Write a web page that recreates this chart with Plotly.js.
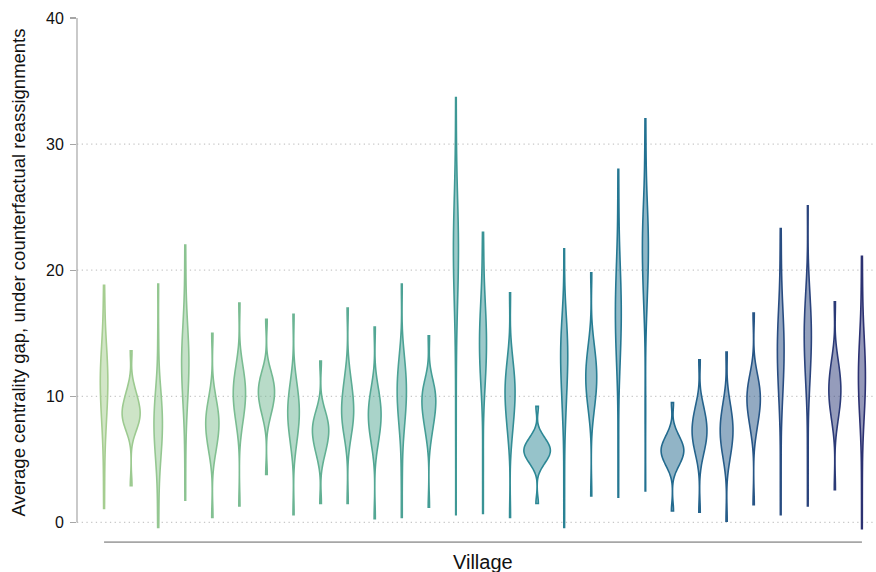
<!DOCTYPE html>
<html>
<head>
<meta charset="utf-8">
<script src="https://cdn.plot.ly/plotly-3.0.1.min.js"></script>
<style>html,body{margin:0;padding:0;background:#fff;}#chart{width:876px;height:572px;}</style>
</head>
<body>
<div id="chart"></div>
<script>
// Village labels (not printed on the axis in the reference)
const villages = ["V01","V02","V03","V04","V05","V06","V07","V08","V09","V10","V11","V12","V13","V14","V15","V16","V17","V18","V19","V20","V21","V22","V23","V24","V25","V26","V27","V28","V29"];

// Average centrality gap under counterfactual reassignments, per village
const V01 = [1.1, 4.0, 6.6, 7.6, 8.3, 8.8, 9.3, 10.0, 10.3, 10.7, 11.0, 11.3, 11.6, 11.9, 12.5, 12.9, 13.3, 13.8, 14.6, 16.5, 18.8];
const V02 = [2.9, 6.9, 7.3, 7.6, 7.8, 8.0, 8.2, 8.3, 8.5, 8.6, 8.75, 8.9, 9.1, 9.3, 9.5, 9.7, 9.9, 10.2, 10.5, 11.1, 13.6];
const V03 = [-0.4, 2.0, 4.2, 5.0, 5.5, 6.0, 6.3, 7.0, 7.2, 7.5, 7.8, 8.1, 8.3, 8.6, 9.2, 9.6, 10.0, 10.5, 11.3, 14.5, 18.9];
const V04 = [1.75, 5.5, 8.3, 9.3, 9.9, 10.4, 10.9, 11.6, 11.9, 12.3, 12.6, 12.9, 13.2, 13.5, 14.2, 14.6, 15.1, 15.7, 16.6, 19.0, 22.0];
const V05 = [0.4, 4.9, 5.6, 6.0, 6.3, 6.6, 6.9, 7.1, 7.4, 7.6, 7.8, 8.0, 8.2, 8.4, 8.7, 8.9, 9.2, 9.5, 9.9, 10.6, 15.0];
const V06 = [1.3, 7.1, 7.8, 8.3, 8.6, 8.9, 9.2, 9.5, 9.7, 10.0, 10.2, 10.4, 10.6, 10.9, 11.1, 11.4, 11.7, 12.0, 12.4, 13.1, 17.4];
const V07 = [3.8, 7.9, 8.4, 8.8, 9.1, 9.3, 9.5, 9.7, 9.9, 10.1, 10.3, 10.5, 10.6, 10.8, 11.0, 11.2, 11.4, 11.6, 12.0, 12.4, 16.1];
const V08 = [0.6, 5.5, 6.2, 6.7, 7.1, 7.4, 7.7, 8.0, 8.2, 8.5, 8.7, 9.0, 9.2, 9.5, 9.7, 10.0, 10.4, 10.7, 11.2, 11.9, 16.5];
const V09 = [1.5, 4.7, 5.3, 5.7, 5.9, 6.2, 6.4, 6.6, 6.8, 7.0, 7.2, 7.4, 7.5, 7.7, 7.9, 8.0, 8.3, 8.5, 8.8, 9.3, 12.8];
const V10 = [1.5, 6.2, 6.8, 7.2, 7.6, 7.9, 8.1, 8.3, 8.6, 8.8, 9.0, 9.3, 9.5, 9.8, 10.1, 10.4, 10.7, 11.1, 11.6, 12.4, 17.0];
const V11 = [0.3, 5.5, 6.2, 6.6, 7.0, 7.3, 7.5, 7.8, 8.0, 8.3, 8.5, 8.7, 8.9, 9.2, 9.4, 9.7, 9.9, 10.3, 10.7, 11.3, 15.5];
const V12 = [0.4, 3.8, 6.5, 7.4, 8.0, 8.5, 8.9, 9.2, 9.6, 9.9, 10.2, 10.5, 10.8, 11.0, 11.3, 11.8, 12.2, 12.5, 13.0, 13.7, 18.9];
const V13 = [1.2, 6.3, 7.0, 7.5, 7.8, 8.2, 8.4, 8.7, 8.9, 9.1, 9.4, 9.6, 9.8, 10.0, 10.2, 10.4, 10.6, 10.8, 11.1, 11.6, 14.8];
const V14 = [0.6, 7.0, 12.0, 15.9, 17.2, 18.0, 18.7, 19.8, 20.2, 20.7, 21.1, 21.9, 22.3, 22.7, 23.1, 24.1, 24.7, 25.4, 26.4, 29.5, 33.7];
const V15 = [0.7, 5.0, 9.9, 10.9, 11.5, 12.0, 12.5, 13.2, 13.5, 13.9, 14.2, 14.5, 14.9, 15.2, 16.0, 16.4, 16.9, 17.5, 18.5, 20.8, 23.0];
const V16 = [0.4, 6.3, 7.1, 7.7, 8.2, 8.6, 8.9, 9.3, 9.6, 9.9, 10.2, 10.5, 10.7, 11.0, 11.3, 11.6, 12.0, 12.4, 12.9, 13.7, 18.2];
const V17 = [1.5, 4.3, 4.6, 4.8, 5.0, 5.1, 5.3, 5.4, 5.5, 5.6, 5.7, 5.8, 5.9, 6.0, 6.1, 6.3, 6.4, 6.6, 6.8, 7.1, 9.2];
const V18 = [-0.4, 3.5, 7.5, 8.7, 9.5, 10.1, 10.7, 11.6, 12.0, 12.3, 12.7, 13.1, 13.4, 13.8, 14.2, 14.5, 15.0, 15.5, 16.1, 16.9, 21.7];
const V19 = [2.1, 8.1, 8.9, 9.4, 9.8, 10.1, 10.4, 10.7, 11.0, 11.2, 11.5, 11.8, 12.0, 12.3, 12.6, 12.9, 13.2, 13.6, 14.1, 14.9, 19.8];
const V20 = [2.0, 6.5, 11.5, 12.6, 13.4, 14.0, 14.5, 15.4, 15.8, 16.2, 16.6, 17.0, 17.4, 17.8, 18.7, 19.2, 19.8, 20.6, 21.7, 24.8, 28.0];
const V21 = [2.5, 9.0, 16.1, 17.3, 18.2, 18.8, 19.4, 20.3, 20.7, 21.1, 21.5, 21.9, 22.3, 22.7, 23.5, 23.9, 24.5, 25.1, 26.1, 29.0, 32.0];
const V22 = [0.9, 4.1, 4.4, 4.7, 4.9, 5.0, 5.2, 5.3, 5.5, 5.6, 5.7, 5.8, 5.9, 6.1, 6.2, 6.4, 6.5, 6.7, 7.0, 7.4, 9.5];
const V23 = [0.8, 4.8, 5.4, 5.8, 6.0, 6.3, 6.5, 6.7, 6.9, 7.1, 7.3, 7.5, 7.7, 7.9, 8.1, 8.3, 8.6, 8.9, 9.2, 9.8, 12.9];
const V24 = [0.1, 4.4, 5.1, 5.5, 5.8, 6.1, 6.4, 6.6, 6.9, 7.1, 7.3, 7.5, 7.7, 8.0, 8.2, 8.5, 8.8, 9.1, 9.5, 10.2, 13.5];
const V25 = [1.4, 6.7, 7.4, 7.8, 8.2, 8.5, 8.8, 9.0, 9.2, 9.5, 9.7, 9.9, 10.1, 10.3, 10.5, 10.8, 11.0, 11.3, 11.7, 12.2, 16.6];
const V26 = [0.6, 4.5, 8.8, 9.9, 10.6, 11.2, 11.7, 12.5, 12.8, 13.2, 13.5, 13.9, 14.2, 14.6, 15.3, 15.8, 16.2, 16.9, 17.8, 20.5, 23.3];
const V27 = [1.3, 5.5, 9.8, 10.9, 11.6, 12.1, 12.6, 13.4, 13.8, 14.1, 14.5, 14.9, 15.2, 15.6, 16.0, 16.4, 16.9, 17.5, 18.2, 19.2, 25.1];
const V28 = [2.6, 7.5, 8.1, 8.6, 8.9, 9.3, 9.5, 9.8, 10.0, 10.3, 10.5, 10.7, 11.0, 11.2, 11.5, 11.8, 12.1, 12.4, 12.9, 13.5, 17.5];
const V29 = [-0.5, 3.5, 7.2, 8.2, 8.8, 9.3, 9.8, 10.5, 10.8, 11.2, 11.5, 11.8, 12.2, 12.5, 13.3, 13.7, 14.2, 14.8, 15.8, 18.3, 21.1];

const gaps = [V01,V02,V03,V04,V05,V06,V07,V08,V09,V10,V11,V12,V13,V14,V15,V16,V17,V18,V19,V20,V21,V22,V23,V24,V25,V26,V27,V28,V29];

// y-axis ticks and grid
const yTicks = [0, 10, 20, 30, 40];
const gridVals = [0, 10, 20, 30];

// ---- styling (crest-like palette) ----
const crestStops = [[165,205,144],[130,192,145],[98,176,147],[68,157,149],[45,136,149],[34,113,145],[39,85,134],[44,49,114]];
function crest(t){
  const n = crestStops.length - 1;
  const p = Math.min(n - 1e-9, Math.max(0, t * n));
  const i = Math.floor(p), f = p - i;
  const a = crestStops[i], b = crestStops[i+1];
  return [0,1,2].map(k => Math.round(a[k] + (b[k]-a[k])*f));
}

const traces = villages.map((name, i) => {
  const c = crest(i / (villages.length - 1));
  return {
    type: 'violin',
    x: gaps[i].map(() => name),
    y: gaps[i],
    name: name,
    scalegroup: 'all',
    scalemode: 'width',
    spanmode: 'hard',
    points: false,
    box: {visible: false},
    meanline: {visible: false},
    line: {color: `rgb(${c[0]},${c[1]},${c[2]})`, width: 1.6},
    fillcolor: `rgba(${c[0]},${c[1]},${c[2]},0.5)`,
    showlegend: false,
    hoverinfo: 'y'
  };
});

const FONT = '"Liberation Sans", Arial, Helvetica, sans-serif';
const shapes = [];
gridVals.forEach(g => shapes.push({
  type: 'line', layer: 'below', xref: 'paper', x0: 0, x1: 1, yref: 'y', y0: g, y1: g,
  line: {color: '#c8c8c8', width: 1.2, dash: '1.3px,3.4px'}
}));
// trimmed y axis line (0 to 40)
shapes.push({type: 'line', xref: 'paper', x0: 0, x1: 0, yref: 'y', y0: yTicks[0], y1: yTicks[yTicks.length-1],
  line: {color: '#a6a6a6', width: 1.2}});
// trimmed x axis line (first to last village)
shapes.push({type: 'line', xref: 'x', x0: 0, x1: villages.length - 1, yref: 'paper', y0: -0.0137, y1: -0.0137,
  line: {color: '#a6a6a6', width: 1.6}});

const layout = {
  width: 876, height: 572,
  margin: {l: 77, r: 0, t: 18, b: 37, pad: 0},
  paper_bgcolor: '#ffffff', plot_bgcolor: '#ffffff',
  font: {family: FONT, color: '#111111'},
  violingap: 0.02, violingroupgap: 0, violinmode: 'overlay',
  xaxis: {
    type: 'category', range: [-1, 28.52], showticklabels: false, ticks: '',
    showline: false, showgrid: false, zeroline: false, fixedrange: true
  },
  yaxis: {
    range: [-1, 40], tickvals: yTicks, ticktext: yTicks.map(String),
    ticks: 'outside', ticklen: 6, tickwidth: 1.2, tickcolor: '#a6a6a6',
    tickfont: {size: 16, color: '#111111', family: FONT},
    ticklabelstandoff: 3,
    showline: false, showgrid: false, zeroline: false, fixedrange: true
  },
  shapes: shapes,
  annotations: [
    {text: 'Average centrality gap, under counterfactual reassignments', textangle: -90,
     xref: 'paper', x: 0, xshift: -58, xanchor: 'center', yref: 'paper', y: 0.5075, yanchor: 'middle',
     showarrow: false, font: {size: 18.5, color: '#111111', family: FONT}},
    {text: 'Village', xref: 'x', x: (villages.length - 1) / 2, xanchor: 'center',
     yref: 'paper', y: -0.052, yanchor: 'middle', showarrow: false,
     font: {size: 20, color: '#111111', family: FONT}}
  ]
};

Plotly.newPlot('chart', traces, layout, {displayModeBar: false, staticPlot: true});
</script>
</body>
</html>
